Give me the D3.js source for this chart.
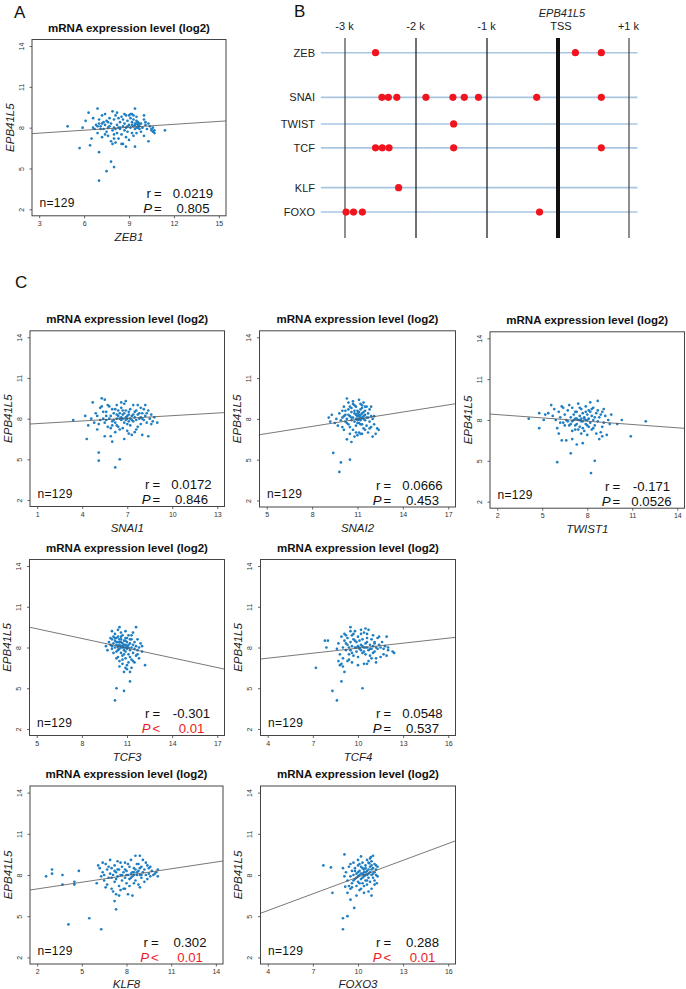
<!DOCTYPE html>
<html><head><meta charset="utf-8">
<script src="https://cdn.jsdelivr.net/npm/d3@7"></script>
<style>body{margin:0;background:#fff}svg{display:block;font-family:"Liberation Sans",Arial,Helvetica,sans-serif}</style>
</head><body><svg id="c" width="686" height="989"></svg>
<script>
// ---------------- DATA ----------------
const genes = ["ZEB1","SNAI1","SNAI2","TWIST1","TCF3","TCF4","KLF8","FOXO3"];
const yLabel = "EPB41L5";
const panelTitle = "mRNA expression level (log2)";
const yTicks = [2,5,8,11,14];
const xTickLabels = [[3,6,9,12,15],[1,4,7,10,13],[5,8,11,14,17],[2,5,8,11,14],[5,8,11,14,17],[4,7,10,13,16],[2,5,8,11,14],[4,7,10,13,16]];
const rValues = ["0.0219","0.0172","0.0666","-0.171","-0.301","0.0548","0.302","0.288"];
const pValues = ["0.805","0.846","0.453","0.0526","0.01","0.537","0.01","0.01"];
const pSignificant = [false,false,false,false,true,false,true,true];
const nSamples = 129;
const fitIntercept = [7.38,7.57,6.04,8.56,10.57,6.72,6.66,3.78];
const fitSlope = [0.072,0.065,0.176,-0.081,-0.238,0.123,0.163,0.407];

const zeb1Pts = [[4.9,8.1],[5.7,6.5],[5.9,8.0],[6.1,8.5],[6.3,9.1],[6.4,6.7],[6.5,7.2],[6.6,8.0],[6.6,8.7],[6.7,7.9],[6.8,8.2],[6.9,9.4],[6.9,7.6],[7.0,8.6],[7.0,8.3],[7.0,6.2],[7.0,4.1],[7.1,7.9],[7.1,8.1],[7.2,8.9],[7.2,7.3],[7.3,8.4],[7.3,7.9],[7.4,9.0],[7.4,8.2],[7.5,7.7],[7.5,8.5],[7.5,4.8],[7.6,8.0],[7.6,7.4],[7.7,8.7],[7.7,8.1],[7.8,7.0],[7.8,8.3],[7.8,5.5],[7.9,9.2],[7.9,7.8],[7.9,6.8],[8.0,8.0],[8.0,5.1],[8.0,8.6],[8.0,7.5],[8.1,8.9],[8.1,7.9],[8.1,6.9],[8.2,8.2],[8.2,7.6],[8.3,8.7],[8.3,8.0],[8.3,7.2],[8.4,8.4],[8.4,7.9],[8.5,8.8],[8.5,7.5],[8.5,6.8],[8.6,8.1],[8.6,8.6],[8.7,7.8],[8.7,9.0],[8.7,8.3],[8.8,7.3],[8.8,8.0],[8.8,6.6],[8.9,8.5],[8.9,7.7],[9.0,8.9],[9.0,8.2],[9.0,7.1],[9.1,8.0],[9.1,8.7],[9.2,7.6],[9.2,8.4],[9.2,9.0],[9.3,8.1],[9.3,7.4],[9.3,8.6],[9.4,9.4],[9.4,8.3],[9.4,7.9],[9.4,6.6],[9.5,8.5],[9.5,8.0],[9.5,8.8],[9.5,7.6],[9.6,8.2],[9.6,8.4],[9.7,7.9],[9.7,8.1],[9.8,7.7],[9.8,8.3],[9.9,8.0],[10.0,8.9],[10.0,8.6],[10.0,7.4],[10.1,8.2],[10.2,7.9],[10.3,8.3],[10.3,7.0],[10.4,8.1],[10.5,7.8],[10.5,7.9],[10.6,8.0],[10.7,7.6],[10.7,7.8],[11.4,7.8],[8.6,6.8],[9.2,8.2],[9.4,8.2],[9.5,8.3],[9.6,8.0],[8.9,8.1],[8.4,8.0],[7.6,8.4],[7.2,8.3],[6.9,8.1],[8.2,9.1],[8.8,8.9],[9.1,9.0],[9.3,8.9],[9.7,8.3],[10.1,8.4],[10.6,7.7],[8.0,7.2],[7.4,7.5]];
const snai1Pts = [[3.4,7.9],[4.2,8.2],[4.3,6.5],[4.4,7.5],[4.6,8.0],[4.7,9.2],[4.9,8.4],[5.0,8.2],[5.0,7.2],[5.1,4.9],[5.1,5.5],[5.1,7.6],[5.2,8.8],[5.3,9.5],[5.3,8.9],[5.4,8.0],[5.5,9.4],[5.5,6.7],[5.6,7.9],[5.6,8.5],[5.7,7.4],[5.8,8.9],[5.9,6.7],[5.9,8.2],[6.0,6.3],[6.0,7.8],[6.1,8.4],[6.2,7.0],[6.2,4.4],[6.2,8.7],[6.3,9.0],[6.3,7.5],[6.4,8.2],[6.5,5.0],[6.5,8.0],[6.5,8.4],[6.6,8.8],[6.6,7.9],[6.7,7.3],[6.7,8.3],[6.8,9.1],[6.8,7.7],[6.9,8.1],[6.9,8.6],[7.0,8.0],[7.0,7.6],[7.1,8.3],[7.1,6.9],[7.2,8.0],[7.2,8.7],[7.3,6.8],[7.3,8.2],[7.4,7.8],[7.4,9.0],[7.5,8.5],[7.5,8.1],[7.6,7.9],[7.6,7.2],[7.7,9.0],[7.7,8.3],[7.8,8.0],[7.9,7.6],[7.9,8.8],[8.0,6.8],[8.0,8.4],[8.1,7.9],[8.2,9.0],[8.2,8.2],[8.3,7.7],[8.4,6.7],[8.4,8.6],[8.5,8.0],[8.6,8.3],[8.7,7.8],[8.8,8.1],[9.0,7.7],[6.4,8.6],[6.6,8.1],[6.8,8.4],[7.0,8.2],[6.1,7.9],[5.8,8.0],[6.3,8.0],[6.7,8.0],[6.9,7.9],[7.1,8.5],[7.3,7.9],[7.6,8.6],[7.8,8.4],[6.0,8.7],[5.6,8.2],[5.2,7.9],[4.8,7.7],[6.2,7.7],[6.5,7.2],[7.9,8.1],[8.3,8.4],[5.4,8.5],[6.9,9.3],[7.4,8.3],[7.2,7.5],[6.6,9.2],[8.1,8.7],[5.7,9.0],[6.4,7.4],[7.0,7.1],[5.9,7.3],[6.8,6.5],[7.5,7.0],[8.6,7.6],[6.3,8.3],[7.7,7.4],[6.0,7.5],[5.5,7.7],[8.0,8.0],[7.1,7.8],[6.7,8.6]];
const snai2Pts = [[9.1,8.1],[9.2,7.8],[9.3,8.3],[9.5,7.7],[9.4,5.5],[9.9,4.8],[9.8,4.1],[10.5,5.0],[9.6,8.0],[9.7,7.5],[9.8,8.4],[9.9,7.9],[10.0,8.6],[10.0,8.1],[10.1,7.2],[10.1,8.9],[10.2,7.8],[10.2,8.3],[10.3,9.5],[10.3,6.5],[10.3,8.0],[10.4,8.7],[10.4,7.6],[10.4,9.2],[10.5,8.2],[10.5,7.4],[10.5,8.9],[10.6,6.3],[10.6,8.5],[10.6,7.9],[10.7,9.1],[10.7,8.1],[10.7,7.2],[10.8,6.7],[10.8,8.4],[10.8,7.8],[10.9,8.9],[10.9,8.0],[10.9,7.5],[11.0,8.2],[11.0,8.6],[11.0,7.7],[11.1,9.4],[11.1,8.0],[11.1,8.3],[11.1,7.0],[11.2,6.9],[11.2,8.1],[11.2,8.7],[11.2,7.9],[11.3,8.4],[11.3,7.6],[11.3,9.0],[11.4,8.0],[11.4,8.2],[11.4,7.3],[11.5,8.6],[11.5,7.9],[11.5,8.9],[11.6,8.1],[11.6,7.5],[11.7,8.4],[11.7,7.0],[11.8,8.7],[11.8,7.8],[11.9,8.2],[11.9,7.4],[12.0,6.7],[12.0,8.0],[12.1,7.6],[12.2,6.9],[12.3,7.3],[12.4,7.2],[11.0,8.0],[11.1,8.2],[11.2,8.3],[11.3,8.1],[11.0,7.9],[10.9,8.3],[11.2,8.0],[11.4,8.5],[10.8,8.6],[11.1,7.7],[10.6,8.8],[10.2,8.6],[10.0,7.4],[11.6,8.9],[11.9,8.9],[12.1,8.2],[10.7,9.3],[10.4,8.3],[11.5,7.2],[10.9,7.0],[11.3,6.9],[11.0,6.8],[10.5,6.9],[11.8,7.3],[10.3,7.7],[10.1,8.2],[11.7,8.1],[11.4,9.2],[10.8,9.0],[11.2,9.1],[11.3,8.8],[11.1,8.5],[10.6,8.1],[11.0,8.4],[11.2,7.6],[11.5,8.3]];
const twist1Pts = [[4.1,8.1],[4.8,7.4],[4.8,8.5],[5.1,8.0],[5.2,8.4],[5.4,8.5],[5.6,9.1],[5.7,8.3],[5.8,8.8],[5.9,8.0],[6.0,4.9],[6.0,7.4],[6.1,7.0],[6.1,8.6],[6.2,8.2],[6.3,6.5],[6.3,9.0],[6.4,7.8],[6.5,8.4],[6.6,6.5],[6.6,8.0],[6.7,8.7],[6.8,7.6],[6.9,5.55],[6.9,8.2],[7.0,6.6],[7.0,8.9],[7.0,7.9],[7.1,8.4],[7.2,7.3],[7.2,8.1],[7.3,8.6],[7.3,7.7],[7.4,9.2],[7.4,8.0],[7.5,8.3],[7.5,7.5],[7.6,8.1],[7.6,8.8],[7.7,6.3],[7.7,7.9],[7.7,8.5],[7.8,8.2],[7.8,7.2],[7.9,9.0],[7.9,8.0],[8.0,8.4],[8.0,7.6],[8.0,6.9],[8.1,8.7],[8.1,8.1],[8.2,9.3],[8.25,4.1],[8.2,7.8],[8.3,8.3],[8.3,7.3],[8.4,8.9],[8.4,8.0],[8.5,5.0],[8.5,7.6],[8.6,8.5],[8.7,9.4],[8.7,7.9],[8.8,8.2],[8.9,7.1],[9.0,6.8],[9.0,8.6],[9.1,7.8],[9.2,8.3],[9.3,6.9],[9.4,8.0],[9.5,7.7],[9.6,8.4],[10.0,7.7],[10.3,8.0],[10.9,6.8],[11.9,7.9],[7.1,8.0],[7.3,8.1],[7.5,8.0],[7.6,7.9],[7.8,8.1],[7.9,7.7],[8.0,8.0],[8.1,7.5],[7.4,7.3],[7.2,8.6],[6.9,7.7],[6.7,7.9],[8.3,8.8],[8.5,8.2],[8.9,8.4],[7.0,7.2],[6.4,8.9],[6.2,7.8],[7.6,7.0],[8.6,7.0],[8.8,6.6],[7.3,6.2],[7.9,8.6],[8.2,8.6],[7.5,8.9],[6.8,9.1],[8.7,8.7],[9.1,8.8],[6.5,7.6],[7.7,7.4],[8.4,7.4],[9.0,7.5],[7.2,7.6]];
const tcf3Pts = [[9.6,8.1],[9.7,7.8],[9.8,8.4],[9.9,8.2],[10.0,9.2],[10.0,8.6],[10.0,7.9],[10.1,8.8],[10.1,8.3],[10.1,7.6],[10.2,4.1],[10.2,8.5],[10.2,8.0],[10.2,9.0],[10.3,5.0],[10.3,8.7],[10.3,7.7],[10.3,8.2],[10.4,9.3],[10.4,8.4],[10.4,7.3],[10.4,8.0],[10.5,9.5],[10.5,8.6],[10.5,7.9],[10.5,8.2],[10.5,7.0],[10.6,8.8],[10.6,8.1],[10.6,7.6],[10.6,8.4],[10.7,8.0],[10.7,7.4],[10.7,8.9],[10.7,6.8],[10.8,4.8],[10.8,8.2],[10.8,7.8],[10.8,8.5],[10.9,8.0],[10.9,7.2],[10.9,8.7],[10.9,6.5],[11.0,8.1],[11.0,6.7],[11.0,7.9],[11.0,8.4],[11.1,7.5],[11.1,8.0],[11.1,8.9],[11.2,5.5],[11.2,6.2],[11.2,7.8],[11.2,8.3],[11.3,7.1],[11.3,8.0],[11.3,8.6],[11.4,9.1],[11.4,7.6],[11.4,8.2],[11.5,7.9],[11.5,6.9],[11.6,9.5],[11.6,8.1],[11.6,7.4],[11.7,8.6],[11.7,7.8],[11.8,8.0],[11.8,7.2],[11.9,8.3],[12.0,8.1],[12.0,7.7],[12.2,6.7],[10.6,8.0],[10.7,8.1],[10.8,8.0],[10.9,8.2],[11.0,8.0],[10.5,8.4],[10.4,8.8],[10.3,8.4],[10.6,8.6],[10.9,7.7],[11.1,8.2],[10.2,8.7],[10.0,8.1],[9.9,8.7],[10.8,7.5],[11.2,7.3],[10.7,7.1],[10.4,7.8],[11.0,8.7],[11.3,8.9],[10.6,9.1],[10.9,9.2],[11.5,8.4],[11.1,6.9],[10.8,6.2],[11.4,7.0],[11.7,7.5],[10.5,6.6],[11.0,6.4],[10.3,7.2],[11.3,6.5],[10.7,8.3],[10.9,8.5],[11.2,8.6],[10.4,8.1]];
const tcf4Pts = [[7.2,6.5],[7.8,8.5],[8.0,8.5],[7.9,8.0],[8.3,4.8],[8.6,4.1],[8.9,5.5],[9.1,6.2],[8.8,6.7],[8.9,6.8],[10.3,5.0],[9.5,9.5],[10.5,9.4],[12.4,7.6],[12.3,7.7],[12.0,7.8],[11.7,7.5],[11.5,7.3],[10.4,6.8],[10.6,6.8],[11.9,8.8],[8.6,7.9],[8.7,8.3],[8.8,7.5],[8.9,8.8],[9.0,8.0],[9.0,7.2],[9.1,8.5],[9.1,9.0],[9.2,7.8],[9.2,8.3],[9.3,7.0],[9.3,8.7],[9.4,8.0],[9.4,7.5],[9.5,8.4],[9.5,7.8],[9.6,8.9],[9.6,8.1],[9.7,7.4],[9.7,8.6],[9.8,9.2],[9.8,8.0],[9.9,7.7],[9.9,8.4],[10.0,8.8],[10.0,8.1],[10.0,7.3],[10.1,8.5],[10.1,7.9],[10.2,9.0],[10.2,8.2],[10.3,7.6],[10.3,8.6],[10.4,8.0],[10.4,9.1],[10.5,8.3],[10.5,7.5],[10.6,8.7],[10.6,8.0],[10.7,7.8],[10.7,9.3],[10.8,8.2],[10.8,7.4],[10.9,8.6],[10.9,7.9],[11.0,8.1],[11.0,8.9],[11.1,7.7],[11.1,8.4],[11.2,8.0],[11.2,7.2],[11.3,8.7],[11.3,7.9],[11.4,8.2],[11.5,8.0],[11.6,8.4],[11.7,7.9],[11.8,8.1],[12.0,8.0],[9.3,8.2],[9.6,7.6],[9.8,8.5],[10.1,8.0],[10.3,8.1],[10.5,8.0],[10.6,8.4],[10.8,7.9],[11.0,7.6],[9.2,8.9],[9.5,9.2],[10.2,9.3],[11.4,8.8],[8.7,7.0],[9.0,6.6],[9.6,6.9],[10.0,6.7],[10.7,7.0],[11.2,6.9],[9.4,7.1],[10.9,7.2],[11.9,7.4],[9.9,8.0],[10.4,7.7],[10.2,7.8],[11.1,8.3],[10.6,9.0],[9.7,9.0]];
const klf8Pts = [[2.6,7.9],[3.0,8.1],[3.0,8.4],[3.7,8.0],[3.7,7.3],[4.5,7.5],[4.5,7.3],[4.8,8.3],[4.1,4.4],[5.5,4.85],[6.3,4.05],[7.3,5.5],[7.2,6.1],[6.0,7.4],[6.1,8.7],[6.2,8.5],[6.3,7.9],[6.4,8.2],[6.5,7.6],[6.5,8.0],[6.6,8.8],[6.7,7.3],[6.7,8.4],[6.8,7.8],[6.9,8.1],[6.9,9.1],[7.0,7.0],[7.0,8.5],[7.1,8.0],[7.1,6.8],[7.2,8.7],[7.2,7.5],[7.3,8.2],[7.3,6.6],[7.4,9.0],[7.4,7.9],[7.5,8.4],[7.5,7.2],[7.6,8.0],[7.6,6.9],[7.7,8.6],[7.7,7.6],[7.8,8.2],[7.8,7.0],[7.9,8.9],[7.9,7.8],[8.0,8.3],[8.0,7.4],[8.1,8.0],[8.1,6.6],[8.2,8.6],[8.2,7.7],[8.3,9.1],[8.3,8.1],[8.4,6.5],[8.4,7.9],[8.5,8.5],[8.5,8.2],[8.6,9.4],[8.6,7.6],[8.7,8.0],[8.7,8.8],[8.8,7.3],[8.8,8.3],[8.9,9.4],[8.9,8.0],[9.0,8.6],[9.0,7.8],[9.1,8.2],[9.1,9.1],[9.2,7.5],[9.2,8.4],[9.3,8.0],[9.4,8.7],[9.4,7.7],[9.5,8.5],[9.5,8.1],[9.6,7.9],[9.7,8.3],[9.8,8.0],[9.9,8.1],[10.1,8.4],[10.1,7.9],[10.0,8.2],[8.4,8.2],[8.5,8.0],[8.6,8.4],[8.7,8.2],[8.3,7.8],[8.0,8.0],[7.7,8.0],[7.4,8.4],[7.0,7.8],[6.8,8.6],[7.9,8.4],[8.9,8.5],[9.3,8.9],[8.1,8.8],[7.6,8.9],[7.3,7.7],[8.2,7.2],[8.9,7.1],[7.5,6.5],[7.9,7.0],[9.6,8.6],[6.6,7.1],[8.5,7.4],[9.0,8.0],[8.8,8.8],[7.2,8.3],[6.4,8.9]];
const foxo3Pts = [[7.7,8.7],[8.2,8.55],[8.3,6.7],[9.0,8.5],[9.1,9.5],[9.0,4.85],[9.3,5.0],[9.0,4.05],[9.75,5.6],[11.25,7.4],[10.9,6.5],[10.2,9.35],[9.1,7.9],[9.15,7.15],[9.5,7.0],[9.3,6.7],[9.5,6.2],[9.9,6.5],[10.4,6.7],[10.75,8.85],[10.85,9.3],[9.2,8.2],[9.3,7.6],[9.4,8.6],[9.5,7.9],[9.6,8.3],[9.6,7.4],[9.7,8.9],[9.7,8.0],[9.8,7.7],[9.8,8.5],[9.9,8.1],[9.9,7.2],[10.0,8.7],[10.0,7.9],[10.0,7.5],[10.1,8.3],[10.1,8.0],[10.1,6.9],[10.2,8.6],[10.2,7.7],[10.3,8.1],[10.3,8.9],[10.3,7.4],[10.4,8.4],[10.4,7.9],[10.4,8.0],[10.5,8.7],[10.5,7.6],[10.5,8.2],[10.6,9.1],[10.6,8.0],[10.6,7.3],[10.7,8.4],[10.7,7.8],[10.7,8.1],[10.8,8.6],[10.8,7.5],[10.8,8.2],[10.9,9.0],[10.9,8.0],[10.9,7.0],[11.0,8.5],[11.0,7.8],[11.0,9.4],[11.1,8.2],[11.1,7.6],[11.1,8.8],[11.2,8.0],[11.2,8.4],[11.3,8.6],[11.3,7.9],[10.4,8.2],[10.5,8.0],[10.6,8.3],[10.2,8.1],[10.3,7.8],[10.0,8.2],[9.8,8.3],[10.7,8.9],[10.9,8.4],[10.1,8.8],[10.8,9.2],[11.0,8.1],[10.6,7.6],[10.4,7.2],[10.2,7.0],[9.9,7.8],[9.6,7.1],[10.7,6.8],[11.1,7.3],[10.3,8.5],[9.4,7.2],[9.7,7.6],[10.5,8.5],[11.2,8.7],[10.9,8.7],[10.0,9.1],[9.5,8.8],[10.1,7.4]];
const scatterData = [zeb1Pts,snai1Pts,snai2Pts,twist1Pts,tcf3Pts,tcf4Pts,klf8Pts,foxo3Pts];

// Panel B: promoter map
const tfFamilies = ["ZEB","SNAI","TWIST","TCF","KLF","FOXO"];
const bindingSitesKb = [
  [-2.57,0.245,0.61],
  [-2.48,-2.39,-2.27,-1.86,-1.48,-1.32,-1.12,-0.30,0.61],
  [-1.47],
  [-2.57,-2.475,-2.38,-1.47,0.61],
  [-2.245],
  [-2.985,-2.88,-2.755,-0.26]
];
const promoterTicks = [-3,-2,-1,0,1];
const promoterTickLabels = ["-3 k","-2 k","-1 k","TSS","+1 k"];
const tssGene = "EPB41L5";

// ---------------- LAYOUT ----------------
const layout = [
  {L:32,R:226,T:39.5,B:215.8},
  {L:30,R:224.5,T:330.8,B:506.5},
  {L:259.5,R:455.5,T:330.8,B:507},
  {L:490,R:684.5,T:331.8,B:508.2},
  {L:29.5,R:224.5,T:559.5,B:735.5},
  {L:260.5,R:455.5,T:559.5,B:735.5},
  {L:30,R:223,T:786,B:964},
  {L:260.5,R:455.5,T:786,B:964}
];
const rowSlots = [0,1.83,2.92,3.9,5.53,6.53];

const svg = d3.select("#c");
const PT = "#1f7fc2", RED = "#ec1c24";

// Panel letters
[["A",14,18],["B",294,17],["C",15,288]].forEach(([t,x,y])=>{
  svg.append("text").attr("x",x).attr("y",y).attr("font-size",17).attr("fill","#111").text(t);
});

function scatter(i){
  const {L,R,T,B} = layout[i];
  const xt = xTickLabels[i];
  const xs = xt[4]-xt[0], ys = yTicks[4]-yTicks[0];
  const x = d3.scaleLinear().domain([xt[0]-0.04*xs, xt[4]+0.04*xs]).range([L,R]);
  const y = d3.scaleLinear().domain([yTicks[0]-0.04*ys, yTicks[4]+0.04*ys]).range([B,T]);
  const g = svg.append("g");
  const cid = "clip"+i;
  g.append("clipPath").attr("id",cid).append("rect").attr("x",L).attr("y",T).attr("width",R-L).attr("height",B-T);

  g.append("text").attr("x",(L+R)/2).attr("y",T-8).attr("text-anchor","middle")
    .attr("font-size",11.5).attr("font-weight","bold").attr("fill","#111").text(panelTitle);

  const ax = g.append("g").attr("transform",`translate(0,${B})`)
    .call(d3.axisBottom(x).tickValues(xt).tickSize(2.5).tickSizeOuter(0));
  ax.select(".domain").remove();
  ax.selectAll("line").attr("stroke","#666");
  ax.selectAll("text").attr("y",10).attr("dy",0).attr("font-size",7).attr("fill","#333")
    .attr("font-family","Liberation Sans, Arial, sans-serif");
  const ay = g.append("g").attr("transform",`translate(${L},0)`)
    .call(d3.axisLeft(y).tickValues(yTicks).tickSize(2.5).tickSizeOuter(0));
  ay.select(".domain").remove();
  ay.selectAll("line").attr("stroke","#666");
  ay.selectAll("text").attr("x",0).attr("dy",0).attr("text-anchor","middle")
    .attr("transform","translate(-8.5,0) rotate(-90)").attr("font-size",7).attr("fill","#333")
    .attr("font-family","Liberation Sans, Arial, sans-serif");

  g.append("text").attr("x",(L+R)/2).attr("y",Math.min(B+25,988)).attr("text-anchor","middle")
    .attr("font-size",11.5).attr("font-style","italic").attr("fill","#222").text(genes[i]);
  g.append("text").attr("transform",`translate(${L-18.5},${(T+B)/2}) rotate(-90)`).attr("text-anchor","middle")
    .attr("font-size",11.5).attr("font-style","italic").attr("fill","#222").text(yLabel);

  g.append("g").attr("clip-path",`url(#${cid})`).selectAll("circle").data(scatterData[i]).join("circle")
    .attr("cx",d=>x(d[0])).attr("cy",d=>y(d[1])).attr("r",1.35).attr("fill",PT);

  const xd = x.domain();
  g.append("line").attr("clip-path",`url(#${cid})`)
    .attr("x1",x(xd[0])).attr("y1",y(fitIntercept[i]+fitSlope[i]*xd[0]))
    .attr("x2",x(xd[1])).attr("y2",y(fitIntercept[i]+fitSlope[i]*xd[1]))
    .attr("stroke","#555").attr("stroke-width",0.8);

  g.append("rect").attr("x",L).attr("y",T).attr("width",R-L).attr("height",B-T)
    .attr("fill","none").attr("stroke","#444").attr("stroke-width",1);

  g.append("text").attr("x",L+7.5).attr("y",B-9).attr("font-size",12).attr("letter-spacing",0.3)
    .attr("fill","#111").text("n=" + nSamples);
  const pc = pSignificant[i] ? RED : "#111";
  const fs = 13.2, yr = B-17.5, yp = B-2.5;
  const st = g.append("text").attr("font-size",fs).attr("fill","#111");
  st.append("tspan").attr("x",R-75).attr("y",yr).attr("text-anchor","end").text("r");
  st.append("tspan").attr("x",R-72).attr("y",yr).attr("text-anchor","start").text("=");
  st.append("tspan").attr("x",R-33).attr("y",yr).attr("text-anchor","middle").text(rValues[i]);
  st.append("tspan").attr("x",R-74).attr("y",yp).attr("text-anchor","end").attr("font-style","italic").attr("fill",pc).text("P");
  st.append("tspan").attr("x",R-72).attr("y",yp).attr("text-anchor","start").attr("fill",pc).text(pSignificant[i] ? "<" : "=");
  st.append("tspan").attr("x",R-33).attr("y",yp).attr("text-anchor","middle").attr("fill",pc).text(pValues[i]);
}
for (let i=0;i<genes.length;i++) scatter(i);

// ---------------- Panel B ----------------
(function(){
  const xb = d3.scaleLinear().domain([-3,1]).range([345,629]);
  const yb = d3.scaleLinear().domain([0,1]).range([52.7,77.1]);
  const g = svg.append("g");
  g.selectAll("line.h").data(tfFamilies).join("line")
    .attr("x1",xb(-3.34)).attr("x2",xb(1.12))
    .attr("y1",(d,i)=>yb(rowSlots[i])).attr("y2",(d,i)=>yb(rowSlots[i]))
    .attr("stroke","#a9c6e0").attr("stroke-width",1.6);
  g.selectAll("line.v").data(promoterTicks).join("line")
    .attr("x1",d=>xb(d)).attr("x2",d=>xb(d)).attr("y1",38).attr("y2",238)
    .attr("stroke",d=>d===1||d===-3?"#444":"#111").attr("stroke-width",d=>d===0?4:1.2);
  g.selectAll("text.r").data(tfFamilies).join("text")
    .attr("x",315).attr("y",(d,i)=>yb(rowSlots[i])).attr("dy","0.36em").attr("text-anchor","end")
    .attr("font-size",11).attr("fill","#222").text(d=>d);
  g.selectAll("text.t").data(promoterTicks).join("text")
    .attr("x",(d,i)=>xb(d)+(d===0?3:-0.5)).attr("y",29.5).attr("text-anchor","middle")
    .attr("font-size",11).attr("fill","#222").text((d,i)=>promoterTickLabels[i]);
  g.append("text").attr("x",xb(0)+4).attr("y",16.5).attr("text-anchor","middle").attr("font-size",11)
    .attr("font-style","italic").attr("fill","#222").text(tssGene);
  tfFamilies.forEach((tf,i)=>{
    g.selectAll(null).data(bindingSitesKb[i]).join("circle")
      .attr("cx",d=>xb(d)).attr("cy",yb(rowSlots[i])).attr("r",3.6).attr("fill","#f0141e");
  });
})();
</script></body></html>
